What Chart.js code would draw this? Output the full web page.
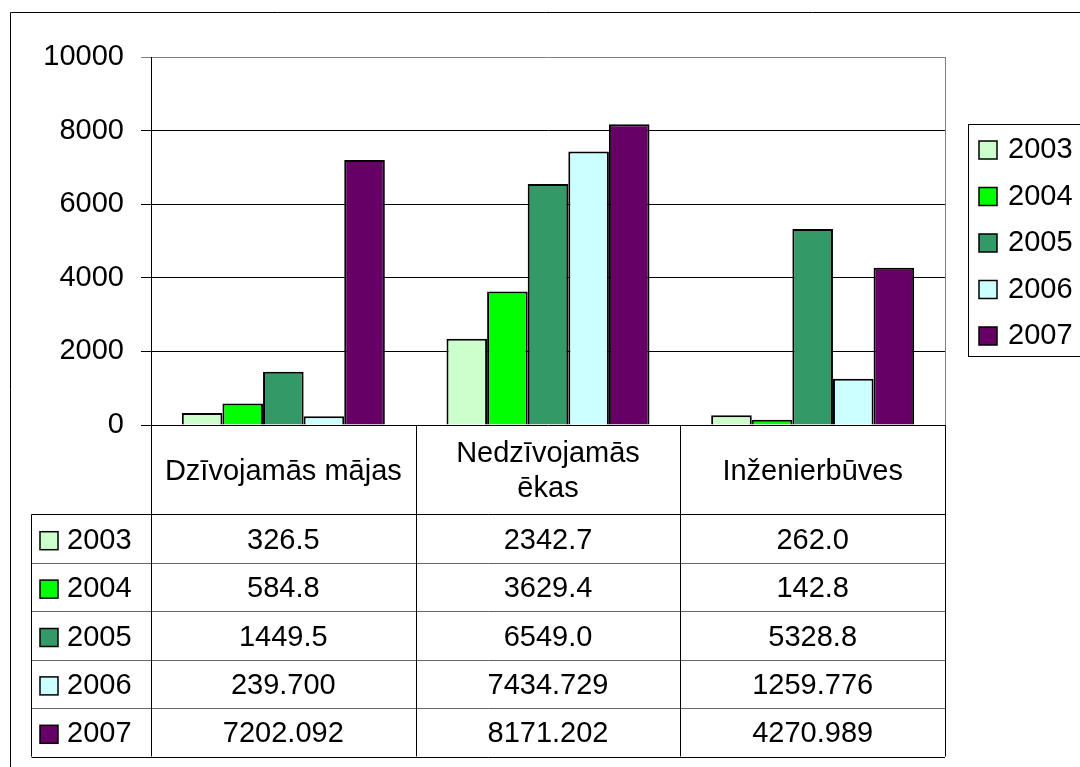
<!DOCTYPE html>
<html>
<head>
<meta charset="utf-8">
<script src="https://cdn.jsdelivr.net/npm/chart.js@4"></script>
<style>
  body { margin: 0; background: #fff; }
</style>
</head>
<body>
<canvas id="myChart" width="1080" height="767"></canvas>
<script>
// Dati
const categories = [['Dzīvojamās mājas'], ['Nedzīvojamās', 'ēkas'], ['Inženierbūves']];
const years = ['2003', '2004', '2005', '2006', '2007'];
const values2003 = [326.5, 2342.7, 262.0];
const values2004 = [584.8, 3629.4, 142.8];
const values2005 = [1449.5, 6549.0, 5328.8];
const values2006 = [239.700, 7434.729, 1259.776];
const values2007 = [7202.092, 8171.202, 4270.989];
const decimals = [1, 1, 1, 3, 3];
const yTicks = [0, 2000, 4000, 6000, 8000, 10000];

const seriesValues = [values2003, values2004, values2005, values2006, values2007];
const colors = ['#CCFFCC', '#00FF00', '#339966', '#CCFFFF', '#660066'];
const font = '29px "Liberation Sans", Arial, sans-serif';

// Rāmis, tabula un leģenda
const tablePlugin = {
  id: 'dataTable',
  beforeDraw(chart) {
    const c = chart.ctx;
    c.save();
    c.fillStyle = '#fff';
    c.fillRect(0, 0, chart.width, chart.height);
    c.strokeStyle = '#000';
    c.lineWidth = 1;
    c.beginPath();
    c.moveTo(10.5, chart.height);
    c.lineTo(10.5, 12.5);
    c.lineTo(chart.width, 12.5);
    c.stroke();
    c.restore();
  },
  afterDraw(chart) {
    const c = chart.ctx;
    const a = chart.chartArea;
    const xs = chart.scales.x;
    const w = (a.right - a.left) / categories.length;
    const keyLeft = 31.5;
    const headBottom = 514.5;
    const rowH = 48.4;
    const rowsBottom = headBottom + rowH * years.length;

    c.save();
    // plot border right side
    c.strokeStyle = '#808080';
    c.beginPath();
    c.moveTo(Math.round(a.right) + 0.5, a.top);
    c.lineTo(Math.round(a.right) + 0.5, a.bottom);
    c.stroke();

    // horizontal lines
    c.strokeStyle = '#000';
    c.beginPath();
    c.moveTo(keyLeft, headBottom);
    c.lineTo(a.right, headBottom);
    c.moveTo(keyLeft, Math.round(rowsBottom) + 0.5);
    c.lineTo(a.right, Math.round(rowsBottom) + 0.5);
    c.stroke();
    c.strokeStyle = '#666';
    c.beginPath();
    for (let r = 1; r < years.length; r++) {
      const y = Math.round(headBottom + rowH * r) + 0.5;
      c.moveTo(keyLeft, y);
      c.lineTo(a.right, y);
    }
    c.stroke();

    // vertical lines
    c.strokeStyle = '#000';
    c.beginPath();
    c.moveTo(keyLeft, headBottom);
    c.lineTo(keyLeft, rowsBottom);
    for (let i = 0; i <= categories.length; i++) {
      const x = Math.round(a.left + w * i) + 0.5;
      c.moveTo(x, a.bottom);
      c.lineTo(x, rowsBottom);
    }
    c.stroke();

    c.fillStyle = '#000';
    c.font = font;
    c.textAlign = 'center';
    c.textBaseline = 'middle';

    // header
    const headMid = (a.bottom + headBottom) / 2 + 2;
    categories.forEach((lines, i) => {
      const cx = xs.getPixelForValue(i);
      const lh = 35;
      lines.forEach((t, k) => {
        c.fillText(t, cx, headMid + (k - (lines.length - 1) / 2) * lh);
      });
    });

    // rows
    years.forEach((yr, r) => {
      const cy = headBottom + rowH * r + rowH / 2 + 2;
      c.fillStyle = colors[r];
      c.fillRect(40, cy - 9, 18, 18);
      c.strokeStyle = '#000';
      c.lineWidth = 1.5;
      c.strokeRect(40, cy - 9, 18, 18);
      c.fillStyle = '#000';
      c.textAlign = 'left';
      c.fillText(yr, 67, cy);
      c.textAlign = 'center';
      seriesValues[r].forEach((v, i) => {
        c.fillText(v.toFixed(decimals[r]), xs.getPixelForValue(i), cy);
      });
    });

    // legend
    c.lineWidth = 1;
    c.strokeStyle = '#000';
    c.strokeRect(968.5, 124.5, 200, 232);
    years.forEach((yr, r) => {
      const cy = 150 + r * 46.5;
      c.fillStyle = colors[r];
      c.fillRect(979, cy - 9, 18, 18);
      c.lineWidth = 1.5;
      c.strokeRect(979, cy - 9, 18, 18);
      c.fillStyle = '#000';
      c.textAlign = 'left';
      c.fillText(yr, 1008, cy);
    });
    c.restore();
  }
};

const ctx = document.getElementById('myChart');

new Chart(ctx, {
  type: 'bar',
  data: {
    labels: categories,
    datasets: years.map((yr, i) => ({
      label: yr,
      data: seriesValues[i],
      backgroundColor: colors[i],
      borderColor: '#000',
      borderWidth: 2,
      categoryPercentage: 0.767,
      barPercentage: 1
    }))
  },
  options: {
    responsive: false,
    animation: false,
    devicePixelRatio: 1,
    layout: {
      padding: { left: 0, top: 57, right: 135, bottom: 342 }
    },
    plugins: {
      legend: { display: false },
      tooltip: { enabled: false }
    },
    scales: {
      x: { display: false },
      y: {
        min: 0,
        max: 10000,
        afterFit(s) { s.width = 151; },
        afterBuildTicks(s) { s.ticks = yTicks.map(v => ({ value: v })); },
        ticks: {
          color: '#000',
          padding: 17,
          font: { family: '"Liberation Sans", Arial, sans-serif', size: 29 },
          callback: v => String(v)
        },
        grid: {
          color: c => (c.tick && c.tick.value === 10000 ? '#808080' : '#000'),
          lineWidth: 1,
          tickLength: 10
        },
        border: { color: '#000', width: 1 }
      }
    }
  },
  plugins: [tablePlugin]
});
</script>
</body>
</html>
